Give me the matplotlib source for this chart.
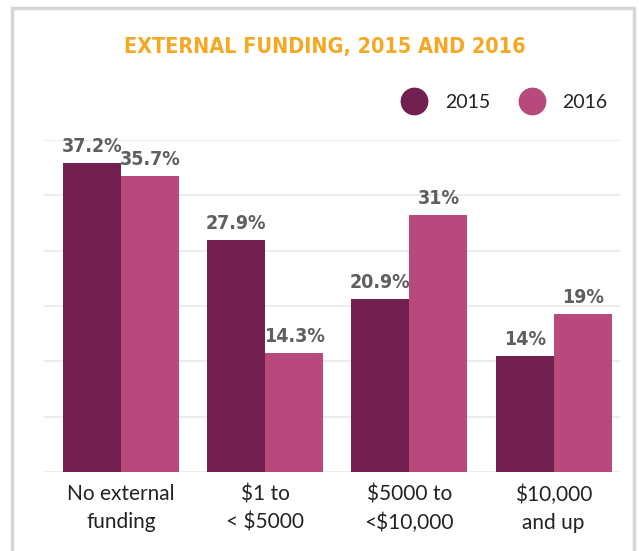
import matplotlib
matplotlib.use("Agg")
import matplotlib.pyplot as plt
import numpy as np
from matplotlib.lines import Line2D
from matplotlib.patches import Rectangle

categories = ["No external\nfunding", "$1 to\n< $5000", "$5000 to\n<$10,000", "$10,000\nand up"]
series_names = ["2015", "2016"]
values_2015 = [37.2, 27.9, 20.9, 14]
values_2016 = [35.7, 14.3, 31, 19]
labels_2015 = ["37.2%", "27.9%", "20.9%", "14%"]
labels_2016 = ["35.7%", "14.3%", "31%", "19%"]
colors = ["#722050", "#B8497D"]

W, H = 639, 551
fig = plt.figure(figsize=(W / 100, H / 100), dpi=100)
fig.patch.set_facecolor("white")

cond = ["DejaVu Sans"]
body = ["Lato", "DejaVu Sans"]

# frame
fig.add_artist(Rectangle((12 / W, -0.05), 622 / W, 1.05 - 8 / H, transform=fig.transFigure,
                         fill=False, edgecolor="#d6d6d6", linewidth=2.5, clip_on=False))

ax = fig.add_axes([44 / W, (H - 472) / H, 576 / W, 332 / H])
x = np.arange(len(categories))
w = 58 / 144.2
ax.bar(x - w / 2, values_2015, width=w, color=colors[0], zorder=3)
ax.bar(x + w / 2, values_2016, width=w, color=colors[1], zorder=3)

for xi, v, lab in zip(x, values_2015, labels_2015):
    ax.annotate(lab, (xi - w / 2, v), xytext=(0, 5), textcoords="offset points",
                ha="center", va="bottom", fontsize=14, fontweight="bold", fontstretch="condensed",
                color="#5f5f5f", family=cond)
for xi, v, lab in zip(x, values_2016, labels_2016):
    ax.annotate(lab, (xi + w / 2, v), xytext=(0, 5), textcoords="offset points",
                ha="center", va="bottom", fontsize=14, fontweight="bold", fontstretch="condensed",
                color="#5f5f5f", family=cond)

ax.set_xlim((44 - 121) / 144.2, (620 - 121) / 144.2)
ax.set_ylim(0, 40)
ax.set_yticks(np.linspace(0, 40, 7))
ax.yaxis.grid(True, color="#ebebeb", linewidth=1.3, zorder=0)
ax.tick_params(axis="y", left=False, labelleft=False)
ax.tick_params(axis="x", length=0, pad=9)
ax.set_xticks(x)
ax.set_xticklabels(categories, fontsize=15, color="#222222", family=body, linespacing=1.5)
for s in ax.spines.values():
    s.set_visible(False)

# title
fig.text(325 / W, 1 - 47 / H, "EXTERNAL FUNDING, 2015 AND 2016", ha="center", va="center",
         fontsize=15.5, fontweight="bold", fontstretch="condensed", color="#F4A824", family=cond)

# legend
for cx, tx, name, c in [(414, 445, series_names[0], colors[0]), (532, 562, series_names[1], colors[1])]:
    fig.add_artist(Line2D([cx / W], [1 - 101 / H], marker="o", markersize=19, color=c,
                          linestyle="none", transform=fig.transFigure))
    fig.text(tx / W, 1 - 102 / H, name, ha="left", va="center", fontsize=14,
             color="#222222", family=body)

fig.savefig("out.png", dpi=100)
